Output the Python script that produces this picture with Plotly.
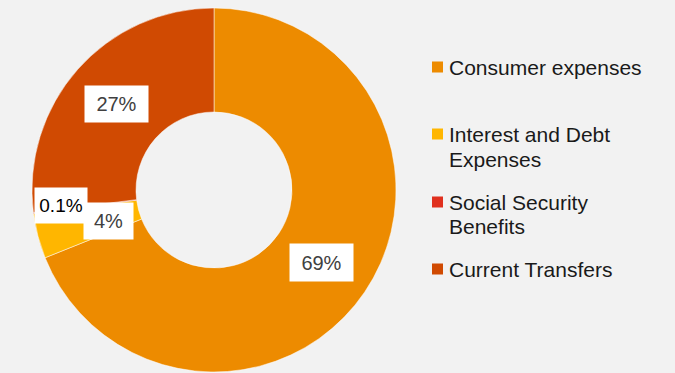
import math
import plotly.graph_objects as go

# Spending breakdown (share of total, %)
categories = ["Consumer expenses", "Interest and Debt\nExpenses",
              "Social Security\nBenefits", "Current Transfers"]
shares = [69, 4, 0.1, 27]
share_labels = ["69%", "4%", "0.1%", "27%"]
colors = ["#ED8B00", "#FFB600", "#E0301E", "#D04A02"]

W, H = 675, 373
CX, CY, R_OUT, R_IN = 214, 190, 182, 78
BG = "#F2F2F2"

fig = go.Figure(go.Pie(
    labels=[c.replace("\n", " ") for c in categories],
    values=shares,
    hole=R_IN / R_OUT,
    sort=False,
    direction="clockwise",
    rotation=0,
    marker=dict(colors=colors, line=dict(color="#FFFFFF", width=0.5)),
    textinfo="none",
    hoverinfo="label+percent",
    showlegend=False,
    domain=dict(x=[(CX - R_OUT) / W, (CX + R_OUT) / W],
                y=[(H - CY - R_OUT) / H, (H - CY + R_OUT) / H]),
))

# value boxes placed at each slice's mid-angle, nudged where small slices crowd
nudges = [(0, 0), (20, -2), (-24, -1), (0, 0)]
box_sizes = [(63, 37), (49, 36), (52, 35), (63, 36)]
text_colors = ["#404040", "#404040", "#000000", "#404040"]
total = sum(shares)
r_mid = (R_IN + R_OUT) / 2
cum = 0.0
annotations = []
for i, v in enumerate(shares):
    mid = (cum + v / 2) / total * 2 * math.pi
    cum += v
    px = CX + r_mid * math.sin(mid) + nudges[i][0]
    py = CY - r_mid * math.cos(mid) + nudges[i][1]
    annotations.append(dict(
        x=px / W, y=1 - py / H, xref="paper", yref="paper",
        text=share_labels[i], showarrow=False,
        xanchor="center", yanchor="middle",
        width=box_sizes[i][0], height=box_sizes[i][1],
        bgcolor="#FFFFFF", borderpad=0,
        font=dict(family="Liberation Sans, Arial, sans-serif",
                  size=19 if share_labels[i] == "0.1%" else 20,
                  color=text_colors[i]),
    ))

# legend drawn as swatches + text lines
legend_rows = [67, 134, 202, 269]
line_gap = 25
shapes = []
for i, name in enumerate(categories):
    yc = legend_rows[i]
    shapes.append(dict(type="rect", xref="paper", yref="paper",
                       x0=432 / W, x1=443 / W,
                       y0=1 - (yc + 5.5) / H, y1=1 - (yc - 5.5) / H,
                       fillcolor=colors[i], line=dict(width=0)))
    for j, line in enumerate(name.split("\n")):
        annotations.append(dict(
            x=447 / W, y=1 - (yc + j * line_gap) / H,
            xref="paper", yref="paper", text=line, showarrow=False,
            xanchor="left", yanchor="middle",
            font=dict(family="Liberation Sans, Arial, sans-serif", size=21,
                      color="#1A1A1A"),
        ))

fig.update_layout(
    width=W, height=H,
    margin=dict(l=0, r=0, t=0, b=0),
    paper_bgcolor=BG, plot_bgcolor=BG,
    annotations=annotations, shapes=shapes,
)

fig.write_html("out.html")
